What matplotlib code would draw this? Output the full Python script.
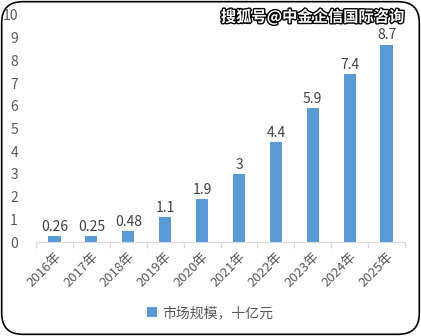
import matplotlib
matplotlib.use("Agg")
import matplotlib.pyplot as plt
import matplotlib.patheffects as pe
from matplotlib.patches import FancyBboxPatch
import numpy as np

plt.rcParams['font.family'] = ['Noto Sans CJK SC', 'DejaVu Sans']

years = ['2016年', '2017年', '2018年', '2019年', '2020年',
         '2021年', '2022年', '2023年', '2024年', '2025年']
market_size = [0.26, 0.25, 0.48, 1.1, 1.9, 3, 4.4, 5.9, 7.4, 8.7]
value_labels = ['0.26', '0.25', '0.48', '1.1', '1.9', '3', '4.4', '5.9', '7.4', '8.7']

bar_color = '#5b9bd5'
text_color = '#595959'

fig = plt.figure(figsize=(4.21, 3.36), dpi=100)

# rounded frame around the whole chart
frame = FancyBboxPatch((0.004, 0.005), 0.992, 0.99, transform=fig.transFigure,
                       boxstyle='round,pad=0,rounding_size=0.05',
                       facecolor='white', edgecolor='black', linewidth=1.2,
                       mutation_aspect=421 / 336, zorder=-1)
fig.patches.append(frame)

ax = fig.add_axes([36 / 421, 94 / 336, 369 / 421, 227 / 336])
ax.patch.set_alpha(0)

x = np.arange(len(years))
bars = ax.bar(x, market_size, width=0.33, color=bar_color, label='市场规模，十亿元')

for xi, v, lab in zip(x, market_size, value_labels):
    ax.text(xi, v + 0.1, lab, ha='center', va='bottom', fontsize=10, color='#404040')

ax.set_xlim(-0.5, len(years) - 0.5)
ax.set_ylim(0, 10)
ax.set_yticks(range(0, 11))
ax.tick_params(axis='y', length=0, labelsize=10, labelcolor=text_color, pad=13)

ax.set_xticks(x)
ax.set_xticklabels(years, rotation=45, ha='right', rotation_mode='anchor',
                   fontsize=9.5, color=text_color)
ax.tick_params(axis='x', length=0, pad=6)
ax.set_xticks(np.arange(-0.5, len(years)), minor=True)
ax.tick_params(axis='x', which='minor', length=4, color='#d9d9d9', width=1)

for side in ['top', 'right', 'left']:
    ax.spines[side].set_visible(False)
ax.spines['bottom'].set_color('#d9d9d9')

leg = fig.legend(loc='center', bbox_to_anchor=(0.5, 23 / 336),
                 frameon=False, fontsize=10, handlelength=0.7, handleheight=0.7,
                 handletextpad=0.4)
for t in leg.get_texts():
    t.set_color(text_color)

fig.text(404 / 421, 1 - 17 / 336, '搜狐号@中金企信国际咨询', ha='right', va='center',
         fontsize=11, fontweight='bold', color='white',
         path_effects=[pe.withStroke(linewidth=2, foreground='black')])

fig.savefig('out.png', dpi=100)
